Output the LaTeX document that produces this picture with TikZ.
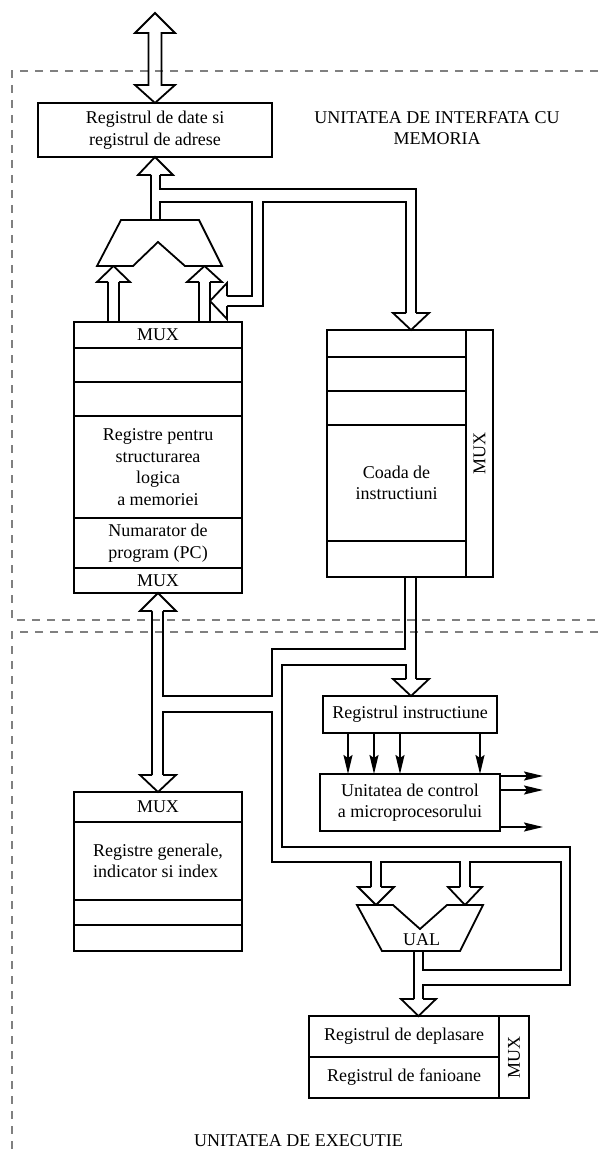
\documentclass[tikz,border=0pt]{standalone}
\usepackage{fontspec}
\setmainfont{Liberation Serif}
\usetikzlibrary{arrows.meta}
\newcommand{\dfont}{\fontsize{18}{21.5}\selectfont}
\begin{document}
\begin{tikzpicture}[x=1pt, y=-1pt,
  ln/.style={line width=1.8pt, line join=miter},
  cell/.style={draw, line width=1.8pt, fill=white, inner sep=0pt, outer sep=0pt, align=center, font=\dfont},
  head/.style={draw, fill=white, line width=1.8pt, line join=miter},
  sig/.style={line width=1.8pt, -{Stealth[length=19pt,width=9pt,inset=3pt]}},
  zone/.style={draw=black!50, line width=1.2pt, dash pattern=on 8pt off 7pt},
  caption/.style={font=\dfont, align=center, inner sep=0pt}]
\useasboundingbox (0,0) rectangle (598,1155);

% unit boundaries
\draw[zone] (598,71) -- (12,71) -- (12,620) -- (598,620);
\draw[zone] (598,632) -- (12,632) -- (12,1155);

% ---------- boxes ----------
\node[cell, minimum width=234pt, minimum height=54pt] (rdate) at (155,130) {Registrul de date si\\registrul de adrese};

\node[cell, minimum width=168pt, minimum height=26pt]  (muxa) at (158,335)   {MUX};
\node[cell, minimum width=168pt, minimum height=34pt]  (sa)   at (158,365)   {};
\node[cell, minimum width=168pt, minimum height=34pt]  (sb)   at (158,399)   {};
\node[cell, minimum width=168pt, minimum height=102pt] (seg)  at (158,467)   {Registre pentru\\structurarea\\logica\\a memoriei};
\node[cell, minimum width=168pt, minimum height=50pt]  (pc)   at (158,543)   {Numarator de\\program (PC)};
\node[cell, minimum width=168pt, minimum height=25pt]  (muxb) at (158,580.5) {MUX};

\node[cell, minimum width=139pt, minimum height=27pt]  (qa) at (396.5,343.5) {};
\node[cell, minimum width=139pt, minimum height=34pt]  (qb) at (396.5,374)   {};
\node[cell, minimum width=139pt, minimum height=34pt]  (qc) at (396.5,408)   {};
\node[cell, minimum width=139pt, minimum height=116pt] (qd) at (396.5,483)   {Coada de\\instructiuni};
\node[cell, minimum width=139pt, minimum height=36pt]  (qe) at (396.5,559)   {};
\node[cell, rotate=90, minimum width=247pt, minimum height=27pt] (qmux) at (479.5,453.5) {MUX};

\node[cell, minimum width=168pt, minimum height=30pt] (mux3) at (158,807)   {MUX};
\node[cell, minimum width=168pt, minimum height=78pt, align=left] (gen) at (158,861) {Registre generale,\\indicator si index};
\node[cell, minimum width=168pt, minimum height=25pt] (ga)   at (158,912.5) {};
\node[cell, minimum width=168pt, minimum height=26pt] (gb)   at (158,938)   {};

\node[cell, minimum width=174pt, minimum height=37pt] (rinstr) at (410,714.5) {Registrul instructiune};
\node[cell, minimum width=180pt, minimum height=57pt] (uctrl)  at (410,802.5) {Unitatea de control\\a microprocesorului};

\node[cell, minimum width=190pt, minimum height=41pt] (rdepl) at (404,1036.5) {Registrul de deplasare};
\node[cell, minimum width=190pt, minimum height=41pt] (rfan)  at (404,1077.5) {Registrul de fanioane};
\node[cell, rotate=90, minimum width=82pt, minimum height=30pt] (rmux) at (514,1057) {MUX};

% ---------- external memory bus ----------
\draw[ln] (148.5,33) -- (135,33) -- (155,13) -- (175,33) -- (161.5,33) -- (161.5,85)
  -- (175,85) -- (rdate.north) -- (135,85) -- (148.5,85) -- cycle;

% ---------- address adder output and feedback ----------
\draw[ln] (151,220) -- (151,175);
\draw[ln] (160,175) -- (160,189) -- (416,189) -- (416,313);
\draw[ln] (160,220) -- (160,202) -- (252,202) -- (252,296) -- (227,296);
\draw[ln] (227,306) -- (263,306) -- (263,202) -- (406,202) -- (406,313);
\draw[head] (151,175) -- (138,175) -- (rdate.south) -- (173,175) -- (160,175);
\draw[head] (406,313) -- (393,313) -- ([xshift=14.5pt]qa.north) -- (429,313) -- (416,313);
\draw[head] (227,296) -- (227,283) -- (210,301) -- (227,319) -- (227,306);

% adder inputs
\draw[ln] (108,322) -- (108,282);
\draw[ln] (119,322) -- (119,282);
\draw[ln] (199,322) -- (199,282);
\draw[ln] (210,322) -- (210,282);
\draw[head] (108,282) -- (97,282) -- (113.5,266) -- (130,282) -- (119,282);
\draw[head] (199,282) -- (187,282) -- (204.5,266) -- (222,282) -- (210,282);
\draw[ln, fill=white] (121,220) -- (199,220) -- (222,266) -- (185,266) -- (158,242)
  -- (133,266) -- (97,266) -- cycle;

% ---------- internal data bus ----------
\draw[ln] (152,611) -- (152,775);
\draw[ln] (163,611) -- (163,696) -- (272,696) -- (272,649) -- (405,649) -- (405,577);
\draw[ln] (163,775) -- (163,712) -- (272,712) -- (272,862) -- (371,862) -- (371,887);
\draw[head] (152,611) -- (140,611) -- (muxb.south) -- (176,611) -- (163,611);
\draw[head] (152,775) -- (140,775) -- (mux3.north) -- (176,775) -- (163,775);

% queue to instruction register
\draw[ln] (416,577) -- (416,679);
\draw[ln] (406,679) -- (406,665) -- (282,665) -- (282,847) -- (570,847) -- (570,985)
  -- (423,985) -- (423,999);
\draw[head] (406,679) -- (393,679) -- ([xshift=1pt]rinstr.north) -- (429,679) -- (416,679);

% ---------- ALU ----------
\draw[ln] (381,887) -- (381,862) -- (460,862) -- (460,887);
\draw[ln] (470,887) -- (470,862) -- (561,862) -- (561,970) -- (423,970) -- (423,951);
\draw[ln] (414,951) -- (414,999);
\draw[head] (371,887) -- (358,887) -- (376,905) -- (394,887) -- (381,887);
\draw[head] (460,887) -- (448,887) -- (465,905) -- (482,887) -- (470,887);
\draw[head] (414,999) -- (401,999) -- ([xshift=14.5pt]rdepl.north) -- (436,999) -- (423,999);
\draw[ln, fill=white] (357,905) -- (393,905) -- (420,929) -- (447,905) -- (483,905)
  -- (460,951) -- (382,951) -- cycle;
\node[caption] (ual) at (421.5,940) {UAL};

% ---------- control signals ----------
\foreach \dx in {-62,-36,-10,70}
  \draw[sig] ([xshift=\dx pt]rinstr.south) -- ([xshift=\dx pt]uctrl.north);
\foreach \dy in {26.5,12.5,-24.5}
  \draw[sig] ([yshift=\dy pt]uctrl.east) -- ([xshift=43pt,yshift=\dy pt]uctrl.east);

% ---------- unit names ----------
\node[caption] (memcap) at (437,128) {UNITATEA DE INTERFATA CU\\MEMORIA};
\node[caption] (execap) at (298.5,1141) {UNITATEA DE EXECUTIE};
\end{tikzpicture}
\end{document}
